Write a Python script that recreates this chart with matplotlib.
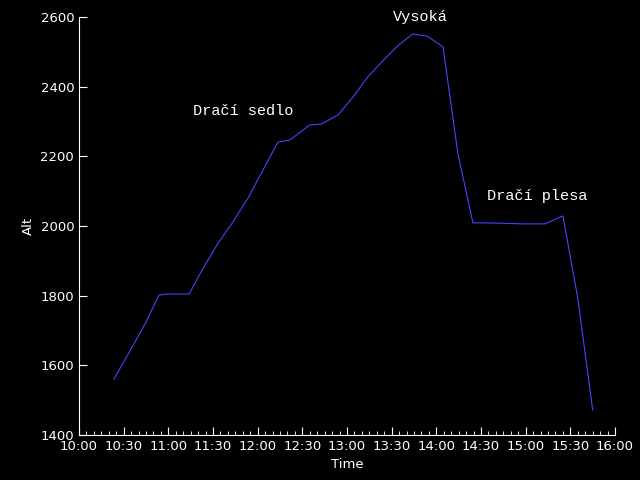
import datetime as dt

import matplotlib
matplotlib.use('Agg')
import matplotlib.pyplot as plt
import matplotlib.dates as mdates

# minutes after 10:00 and altitude
minutes = [23.5, 33, 45, 53.7, 60, 74, 83, 93, 103, 113.5, 123.6, 133.6, 141.7, 155,
           163, 174, 184, 194, 204, 214, 224, 234, 244.5, 254.5, 264.6, 275, 299.5,
           313, 325, 335, 345]
alt = [1561, 1632, 1724, 1802, 1805, 1805, 1876, 1948, 2009, 2080, 2161, 2241, 2247,
       2290, 2293, 2319, 2370, 2428, 2474, 2517, 2551, 2545, 2514, 2207, 2009, 2009,
       2006, 2006, 2029, 1793, 1472]
labels = ['Dračí sedlo', 'Vysoká', 'Dračí plesa']
label_min = [110, 229, 308]
label_alt = [2310, 2580, 2065]

base = dt.datetime(2020, 1, 1, 10, 0)
times = [base + dt.timedelta(minutes=m) for m in minutes]

fig = plt.figure(figsize=(6.4, 4.8), dpi=100, facecolor='black')
ax = fig.add_axes([79/640, 1-435/480, 536/640, 418/480], facecolor='black')
ax.plot(times, alt, color='#4444ff', lw=0.8)

for t, m, a in zip(labels, label_min, label_alt):
    ax.text(base + dt.timedelta(minutes=m), a, t, color='white', ha='center',
            va='bottom', family='Liberation Mono', fontsize=11)

ax.set_xlim(base, base + dt.timedelta(hours=6))
ax.set_ylim(1400, 2600)
ax.xaxis.set_major_locator(mdates.MinuteLocator(byminute=[0, 30]))
ax.xaxis.set_minor_locator(mdates.MinuteLocator(byminute=range(0, 60, 5)))
ax.xaxis.set_major_formatter(mdates.DateFormatter('%H:%M'))
ax.set_yticks([1400, 1600, 1800, 2000, 2200, 2400, 2600])

for s in ['top', 'right']:
    ax.spines[s].set_visible(False)
for s in ['left', 'bottom']:
    ax.spines[s].set_color('white')
ax.tick_params(which='both', direction='in', colors='white', labelsize=9.5)
ax.tick_params(which='major', length=6)
ax.tick_params(which='minor', length=3)
ax.set_xlabel('Time', color='white', fontsize=9.5)
ax.set_ylabel('Alt', color='white', fontsize=9.5)

fig.savefig('out.png', facecolor='black')
